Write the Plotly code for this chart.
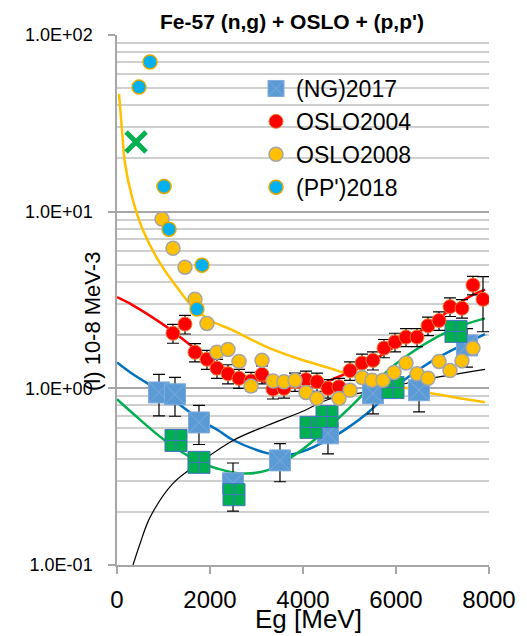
import plotly.graph_objects as go

# ---------------- data ----------------
ng_x = [903, 1247, 1763, 2495, 3505, 4537, 5505, 6495, 7527]
ng_y = [0.948, 0.925, 0.641, 0.29, 0.391, 0.556, 0.937, 0.976, 1.75]
ng_err = [0.25, 0.23, 0.16, 0.088, 0.095, 0.13, 0.22, 0.24, 0.43]

oslo04_x = [1204, 1462, 1677, 1935, 2150, 2387, 2624, 2882, 3118, 3355, 3591, 3828, 4064, 4301, 4537,
            4774, 5011, 5269, 5505, 5742, 5978, 6215, 6452, 6688, 6925, 7161, 7419, 7656, 7871]
oslo04_y = [2.05, 2.31, 1.60, 1.46, 1.30, 1.21, 1.14, 1.10, 1.20, 0.99, 1.0, 1.09, 1.12, 1.09, 1.0,
            1.02, 1.26, 1.39, 1.44, 1.69, 1.83, 1.95, 1.95, 2.26, 2.42, 2.90, 2.84, 3.84, 3.19]
oslo04_err = [0.25, 0.28, 0.19, 0.18, 0.16, 0.15, 0.14, 0.13, 0.14, 0.12, 0.12, 0.13, 0.13, 0.13, 0.12,
              0.12, 0.15, 0.17, 0.17, 0.2, 0.22, 0.23, 0.23, 0.27, 0.29, 0.35, 0.34, 0.46, 1.1]

oslo08_x = [968, 1204, 1462, 1677, 1935, 2150, 2387, 2624, 2882, 3118, 3355, 3591, 3828, 4064, 4301,
            4774, 5011, 5269, 5484, 5720, 5957, 6215, 6452, 6688, 6925, 7161, 7419, 7656]
oslo08_y = [9.08, 6.2, 4.85, 3.19, 2.33, 1.60, 1.66, 1.42, 1.03, 1.44, 1.10, 1.09, 1.11, 0.948, 0.877,
            0.877, 0.975, 1.15, 1.11, 1.11, 1.23, 1.39, 1.21, 1.14, 1.42, 1.26, 1.43, 1.69]

pp_x = [473, 710, 1011, 1118, 1720, 1828]
pp_y = [50.7, 70.3, 13.9, 7.96, 2.81, 4.98]

green_sq_x = [1269, 1763, 2516, 4172, 4516, 5935, 7290]
green_sq_y = [0.507, 0.381, 0.25, 0.601, 0.693, 1.01, 2.10]

green_x_x = [409]
green_x_y = [24.8]

# fitted curves
yel_x = [43, 107, 172, 323, 559, 925, 1290, 1634, 2000, 2495, 3226, 3935, 4580, 5011, 5763, 6731, 7914]
yel_y = [46.4, 29, 18.8, 12.1, 7.85, 5.11, 3.73, 2.88, 2.43, 2.13, 1.71, 1.46, 1.30, 1.19, 1.07, 0.94, 0.834]

red_x = [0, 344, 1075, 1785, 2495, 3226, 3935, 4301, 4580, 5269, 5978, 6688, 7527, 7914]
red_y = [3.28, 2.95, 2.22, 1.60, 1.23, 1.08, 1.01, 1.03, 1.11, 1.33, 1.72, 2.25, 3.24, 3.62]

blue_x = [0, 344, 1075, 1785, 2215, 2495, 3226, 3570, 3935, 4645, 5011, 5376, 6086, 6796, 7914]
blue_y = [1.40, 1.20, 0.91, 0.665, 0.57, 0.51, 0.43, 0.417, 0.434, 0.53, 0.61, 0.72, 1.07, 1.44, 2.03]

grn_x = [0, 344, 1032, 1785, 2150, 2645, 3226, 3935, 4301, 4645, 5011, 6022, 7161, 7914]
grn_y = [0.867, 0.72, 0.507, 0.381, 0.352, 0.33, 0.343, 0.44, 0.527, 0.634, 0.78, 1.39, 2.13, 2.49]

blk_x = [344, 495, 710, 1204, 1785, 2495, 3226, 3935, 4580, 5720, 6366, 7914]
blk_y = [0.1, 0.132, 0.186, 0.29, 0.381, 0.507, 0.616, 0.73, 0.87, 0.99, 1.09, 1.28]

y_tickvals = [0.1, 1, 10, 100]
y_ticktext = ["1.0E-01", "1.0E+00", "1.0E+01", "1.0E+02"]
x_tickvals = [0, 2000, 4000, 6000, 8000]
x_ticktext = ["0", "2000", "4000", "6000", "8000"]

minor_vals = [m * d for d in (0.1, 1, 10) for m in range(2, 10)]

FONT = "Liberation Sans, Arial, sans-serif"

fig = go.Figure()

# curves (below markers)
for cx, cy, col, w in [(yel_x, yel_y, "#FFC000", 2.5), (red_x, red_y, "#FF0000", 2.5),
                       (blue_x, blue_y, "#0070C0", 2.5), (grn_x, grn_y, "#00B050", 2.5),
                       (blk_x, blk_y, "#000000", 1.2)]:
    fig.add_trace(go.Scatter(x=cx, y=cy, mode="lines", line=dict(color=col, width=w, shape="spline"),
                             showlegend=False, hoverinfo="skip"))

fig.add_trace(go.Scatter(
    x=ng_x, y=ng_y, mode="markers", name="(NG)2017", legendrank=1,
    marker=dict(symbol="square-x", size=21, color="#5B9BD5", line=dict(color="#7FAADC", width=1)),
    error_y=dict(type="data", array=ng_err, color="#000000", thickness=1.2, width=6)))

fig.add_trace(go.Scatter(
    x=green_sq_x, y=green_sq_y, mode="markers", showlegend=False,
    marker=dict(symbol="square-cross", size=22, color="#00B050", line=dict(color="#4472C4", width=1))))

fig.add_trace(go.Scatter(
    x=green_x_x, y=green_x_y, mode="markers", showlegend=False,
    marker=dict(symbol="x-thin", size=20, color="#00B050", line=dict(color="#00B050", width=5))))

fig.add_trace(go.Scatter(
    x=oslo04_x, y=oslo04_y, mode="markers", name="OSLO2004", legendrank=2,
    marker=dict(symbol="circle", size=14, color="#FF0000", line=dict(color="#ED7D31", width=1)),
    error_y=dict(type="data", array=oslo04_err, color="#000000", thickness=1.2, width=6)))

fig.add_trace(go.Scatter(
    x=oslo08_x, y=oslo08_y, mode="markers", name="OSLO2008", legendrank=3,
    marker=dict(symbol="circle", size=14, color="#FFC000", line=dict(color="#A5A5A5", width=1.5))))

fig.add_trace(go.Scatter(
    x=pp_x, y=pp_y, mode="markers", name="(PP')2018", legendrank=4,
    marker=dict(symbol="circle", size=14, color="#00B0F0", line=dict(color="#E0A800", width=1.5))))

L, R, T, B = 117, 38, 35, 71
W, H = 527, 636
pw, ph = W - L - R, H - T - B

def px(x):
    return (x - L) / pw

def py(y):
    return (H - B - y) / ph

fig.update_layout(
    width=W, height=H,
    margin=dict(l=L, r=R, t=T, b=B, pad=0),
    paper_bgcolor="white", plot_bgcolor="white",
    font=dict(family=FONT, color="#000000"),
    legend=dict(x=px(256), y=py(67), xanchor="left", yanchor="top",
                font=dict(size=23, family=FONT), bgcolor="rgba(0,0,0,0)",
                traceorder="normal"),
    xaxis=dict(range=[0, 8000], tickvals=x_tickvals, ticktext=x_ticktext,
               showgrid=False, zeroline=False, showline=True, linecolor="#A6A6A6", linewidth=1.5,
               ticks="outside", ticklen=7, tickcolor="#A6A6A6", tickwidth=1.5,
               tickfont=dict(size=24, family=FONT), ticklabelstandoff=5),
    yaxis=dict(type="log", range=[-1, 2], tickvals=y_tickvals, ticktext=y_ticktext,
               showgrid=True, gridcolor="#A6A6A6", gridwidth=1.5,
               zeroline=False, showline=True, linecolor="#A6A6A6", linewidth=1.5,
               ticks="outside", ticklen=7, tickcolor="#A6A6A6", tickwidth=1.5,
               tickfont=dict(size=18, family=FONT), ticklabelstandoff=12,
               minor=dict(tickvals=minor_vals, showgrid=True, gridcolor="#CFCFCF", gridwidth=1.5, ticks="")),
    annotations=[
        dict(text="<b>Fe-57 (n,g) + OSLO + (p,p')</b>", x=px(292), y=py(22), xref="paper", yref="paper",
             showarrow=False, font=dict(size=21, family=FONT), xanchor="center", yanchor="middle"),
        dict(text="Eg [MeV]", x=px(308), y=py(619), xref="paper", yref="paper",
             showarrow=False, font=dict(size=26, family=FONT), xanchor="center", yanchor="middle"),
        dict(text="(l) 10-8 MeV-3", x=px(92), y=py(322), xref="paper", yref="paper", textangle=-90,
             showarrow=False, font=dict(size=22, family=FONT), xanchor="center", yanchor="middle"),
    ],
)

fig.write_html("out.html")
